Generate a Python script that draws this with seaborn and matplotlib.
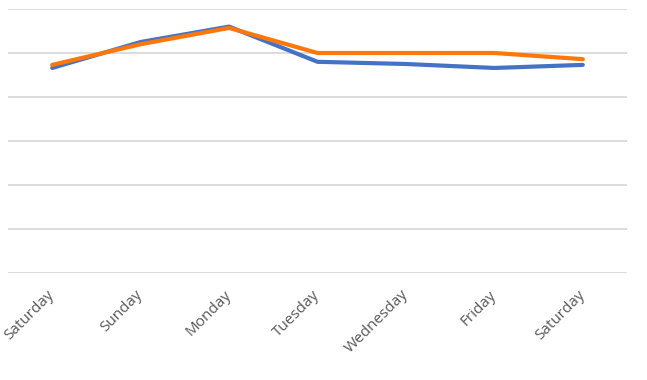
import pandas as pd
import seaborn as sns
import matplotlib.pyplot as plt

# days along the x axis (Saturday appears twice)
days = ['Saturday', 'Sunday', 'Monday', 'Tuesday', 'Wednesday', 'Friday', 'Saturday']
series_a = [46.6, 52.5, 56.0, 48.0, 47.5, 46.6, 47.3]   # blue
series_b = [47.3, 52.0, 55.7, 50.0, 50.0, 50.0, 48.6]   # orange
y_ticks = [0, 10, 20, 30, 40, 50, 60]

df = pd.DataFrame({
    'pos': list(range(len(days))) * 2,
    'value': series_a + series_b,
    'series': ['A'] * len(days) + ['B'] * len(days),
})

sns.set_theme(style='white')
plt.rcParams['font.family'] = ['Open Sans', 'DejaVu Sans']

fig = plt.figure(figsize=(6.47, 3.80), dpi=100)
ax = fig.add_axes([8 / 647, 1 - 273 / 380, 619 / 647, 264 / 380])

sns.lineplot(data=df, x='pos', y='value', hue='series',
             palette={'A': '#4472C4', 'B': '#FF770A'},
             linewidth=3.0, legend=False, ax=ax, sort=False)
for line in ax.lines:
    line.set_solid_capstyle('round')
    line.set_solid_joinstyle('round')

ax.set_xlim(-0.5, len(days) - 0.5)
ax.set_ylim(y_ticks[0], y_ticks[-1])
ax.set_yticks(y_ticks)
ax.set_yticklabels([])
ax.yaxis.grid(True, color='#D9D9D9', linewidth=1.3)
ax.set_axisbelow(True)
ax.set_xticks(range(len(days)))
ax.set_xticklabels(days, rotation=45, ha='right', va='center',
                   rotation_mode='anchor', color='#595959', fontsize=11)
ax.tick_params(axis='x', length=0, pad=14)
ax.tick_params(axis='y', length=0)
ax.set_xlabel('')
ax.set_ylabel('')
sns.despine(ax=ax, left=True, bottom=True)

fig.savefig('out.png', dpi=100)
